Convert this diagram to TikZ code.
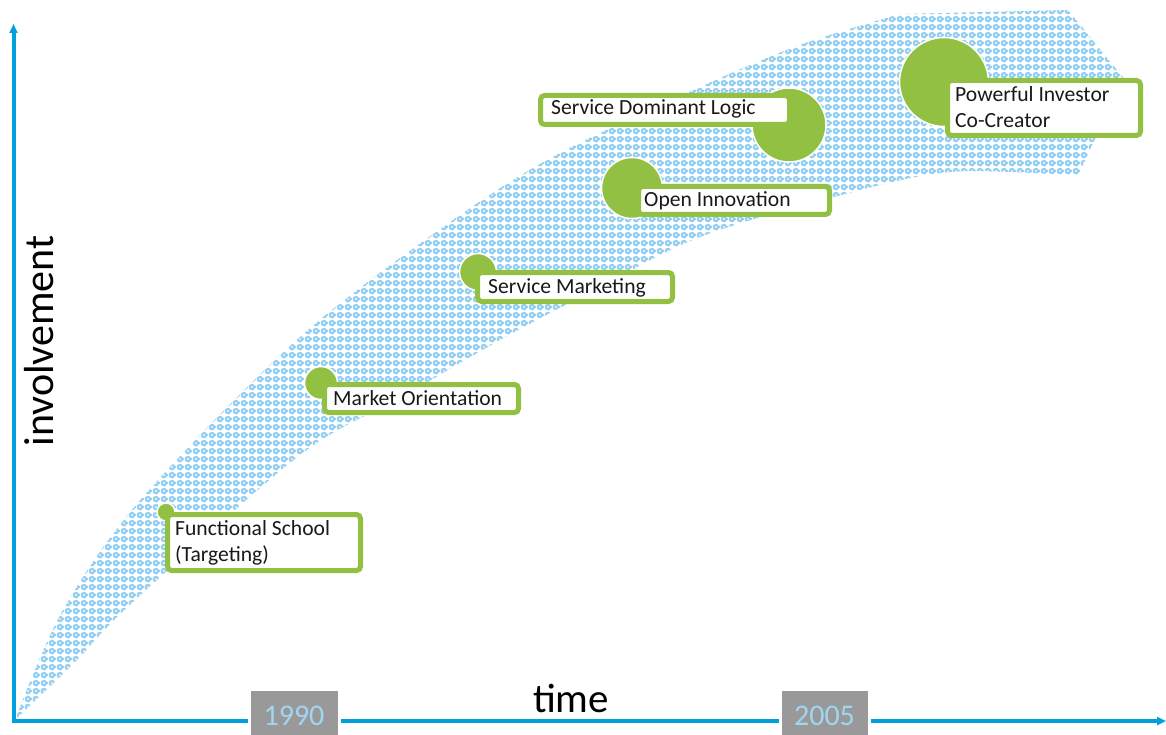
\documentclass[tikz,border=0pt]{standalone}
\usepackage{fontspec}
\setmainfont{Carlito}
\usetikzlibrary{arrows.meta,patterns.meta}
\definecolor{axisblue}{RGB}{0,160,220}
\definecolor{ringblue}{RGB}{148,206,240}
\definecolor{lgreen}{RGB}{146,192,67}
\definecolor{yeargray}{RGB}{153,153,153}
\definecolor{yearblue}{RGB}{160,214,242}
\tikzdeclarepattern{name=rings, type=colored,
  bottom left={(0pt,0pt)}, top right={(8.4pt,8.4pt)}, tile size={(8.4pt,8.4pt)},
  code={\draw[ringblue,line width=2.3pt] (4.2pt,4.2pt) circle (2.3pt);}}
\begin{document}
\begin{tikzpicture}[x=1pt,y=-1pt,
  axis/.style={draw=axisblue, line width=4pt, -{Triangle[length=9pt,width=8pt]}},
  yearbox/.style={fill=yeargray, draw=white, line width=3pt},
  yeartext/.style={text=yearblue, font=\fontsize{30}{30}\selectfont, inner sep=0pt},
  bubble/.style={fill=lgreen, draw=white, line width=1.5pt},
  labelbox/.style={fill=white, draw=lgreen, line width=5pt, rounded corners=4pt},
  lbl/.style={anchor=base west, inner sep=0pt, font=\fontsize{21.6}{26}\selectfont, align=left, text=black!90}]
\useasboundingbox (0,0) rectangle (1166,735);
% band
\fill[pattern=rings]
  plot[smooth, tension=0.55] coordinates {(15,720) (63,610) (143,497) (300,337) (453,220) (560,153) (700,87) (800,45) (900,14)}
  -- (1068,10) -- (1125,80) -- (1093,143) -- (1078,176)
  -- plot[smooth, tension=0.55] coordinates {(1078,176) (950,172) (830,198) (700,237) (600,287) (500,340) (400,398) (300,455) (133,602) (75,662) (15,720)}
  -- cycle;
% axes
\coordinate (origin) at (13.5,721);
\coordinate (ytop) at (13.5,24);
\coordinate (xend) at (1166,721);
\draw[axis] (origin) -- (ytop);
\draw[axis] ([xshift=-2pt]origin) -- (xend);
% year boxes
\draw[yearbox] (249,689) rectangle (339,738);
\node[yeartext] (y1990) at (294,716) {1990};
\draw[yearbox] (780,689) rectangle (869,738);
\node[yeartext] (y2005) at (824.5,716) {2005};
% axis titles
\node[anchor=base, inner sep=0pt, font=\fontsize{41}{41}\selectfont] (time) at (571,712) {time};
\node[anchor=base, inner sep=0pt, rotate=90, font=\fontsize{42}{42}\selectfont] (inv) at (53,341) {involvement};
% Functional School
\fill[bubble] (166,512) circle (9pt);
\draw[labelbox] (167.5,514.5) rectangle (360.5,570.5);
\node[lbl] (fs) at (175,561) {Functional School\\(Targeting)};
% Market Orientation
\fill[bubble] (321,383) circle (16.5pt);
\draw[labelbox] (324.5,384.5) rectangle (518.5,412.5);
\node[lbl] (mo) at (333,405) {Market Orientation};
% Service Marketing
\fill[bubble] (478,272) circle (18.5pt);
\draw[labelbox] (477.5,272.5) rectangle (672.5,301.5);
\node[lbl] (sm) at (488,293) {Service Marketing};
% Open Innovation
\fill[bubble] (632,188) circle (30.5pt);
\draw[labelbox] (638.5,186.5) rectangle (829.5,214.5);
\node[lbl] (oi) at (644,207) {Open Innovation};
% Service Dominant Logic
\fill[bubble] (789,125) circle (37pt);
\draw[labelbox] (540.5,95.5) rectangle (789.5,124.5);
\node[lbl] (sdl) at (551,115) {Service Dominant Logic};
% Powerful Investor
\fill[bubble] (944,82) circle (44.5pt);
\draw[labelbox] (947.5,80.5) rectangle (1140.5,135.5);
\node[lbl] (pic) at (955,128) {Powerful Investor\\Co-Creator};
\end{tikzpicture}
\end{document}
